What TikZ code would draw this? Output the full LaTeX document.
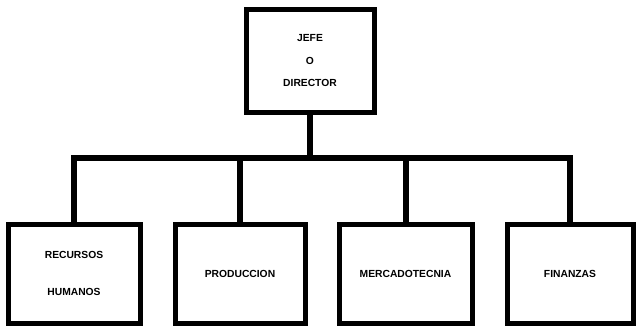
\documentclass[tikz,border=0pt]{standalone}
\usepackage{fontspec}
\setmainfont{Liberation Sans}
\begin{document}
\begin{tikzpicture}[x=1pt,y=-1pt,
  orgbox/.style={draw=black, line width=5pt, inner sep=0pt, font=\bfseries\fontsize{10.3}{12}\selectfont, align=center},
  conn/.style={draw=black, line width=6pt}]
\useasboundingbox (0,0) rectangle (636,326);
\fill[white] (0,0) rectangle (636,326);
\node[orgbox, minimum width=128pt, minimum height=102pt, font=\bfseries\fontsize{10.3}{22.5}\selectfont] (top) at (310,61) {JEFE\\O\\DIRECTOR};
\node[orgbox, minimum width=132pt, minimum height=99pt, font=\bfseries\fontsize{10.3}{37}\selectfont] (b1) at (74,273.5) {RECURSOS\\HUMANOS};
\node[orgbox, minimum width=130pt, minimum height=99pt] (b2) at (240,273.5) {PRODUCCION};
\node[orgbox, minimum width=133pt, minimum height=99pt] (b3) at (405.5,273.5) {MERCADOTECNIA};
\node[orgbox, minimum width=126pt, minimum height=99pt] (b4) at (570,273.5) {FINANZAS};
\coordinate (bus) at (0,158);
\draw[conn] (top.south) -- (top.south |- bus);
\draw[conn] (b1.north) -- (b1.north |- bus) -- (b4.north |- bus) -- (b4.north);
\draw[conn] (b2.north) -- (b2.north |- bus);
\draw[conn] (b3.north) -- (b3.north |- bus);
\end{tikzpicture}
\end{document}
